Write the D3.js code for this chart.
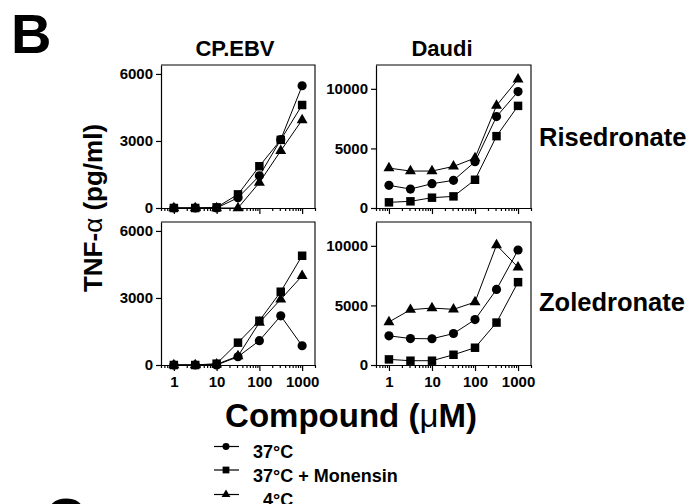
<!DOCTYPE html>
<html lang="en">
<head>
<meta charset="UTF-8">
<title>TNF-alpha release vs compound concentration</title>
<script src="https://d3js.org/d3.v7.min.js"></script>
<style>
  body { margin: 0; background: #fff; }
  svg { display: block; font-family: "Liberation Sans", Arial, Helvetica, sans-serif; font-weight: bold; }
</style>
</head>
<body>
<div id="chart"></div>
<script>
// concentrations (uM), half-log steps
const conc = [1, 3.16, 10, 31.6, 100, 316, 1000];

// CP.EBV, Risedronate
const cpRis37 = [0, 0, 0, 460, 1440, 3060, 5470];
const cpRisMon = [0, 0, 30, 610, 1870, 3050, 4610];
const cpRis4 = [0, 0, 0, 0, 1140, 2560, 3940];

// Daudi, Risedronate
const daudiRis37 = [1900, 1590, 2040, 2320, 3880, 7670, 9770];
const daudiRisMon = [475, 560, 865, 975, 2370, 6030, 8570];
const daudiRis4 = [3350, 3100, 3100, 3490, 4190, 8600, 10800];

// CP.EBV, Zoledronate
const cpZol37 = [0, 0, 0, 370, 1090, 2200, 860];
const cpZolMon = [0, 0, 60, 1000, 1980, 3280, 4890];
const cpZol4 = [0, 0, 30, 400, 1900, 2940, 3990];

// Daudi, Zoledronate
const daudiZol37 = [2450, 2220, 2200, 2640, 3810, 6340, 9650];
const daudiZolMon = [470, 360, 360, 860, 1450, 3560, 6950];
const daudiZol4 = [3610, 4640, 4780, 4670, 5280, 10060, 8200];

const cellLines = ["CP.EBV", "Daudi"];
const compounds = ["Risedronate", "Zoledronate"];
const seriesNames = ["37°C", "37°C + Monensin", "\u20074°C"];
const yTicksCP = [0, 3000, 6000];
const yTicksDaudi = [0, 5000, 10000];
const xTicks = [1, 10, 100, 1000];

const width = 694, height = 504;
const svg = d3.select("#chart").append("svg")
    .attr("width", width)
    .attr("height", height);

const cols = [[161, 315], [376, 531]];
const rows = [[65, 208], [222, 365]];
const symbols = [d3.symbolCircle, d3.symbolSquare, d3.symbolTriangle];
const symSize = [66, 72, 52];

const panels = [
    { row: 0, col: 0, yMax: 6400, yTicks: yTicksCP, series: [cpRis37, cpRisMon, cpRis4] },
    { row: 0, col: 1, yMax: 12000, yTicks: yTicksDaudi, series: [daudiRis37, daudiRisMon, daudiRis4] },
    { row: 1, col: 0, yMax: 6400, yTicks: yTicksCP, series: [cpZol37, cpZolMon, cpZol4] },
    { row: 1, col: 1, yMax: 12000, yTicks: yTicksDaudi, series: [daudiZol37, daudiZolMon, daudiZol4] }
];

// minor log ticks 2..9 per decade inside the domain
const minorTicks = [];
for (let k = -1; k <= 3; k++) {
    for (let m = 2; m <= 9; m++) {
        const v = m * Math.pow(10, k);
        if (v > 0.5 && v < 2000) minorTicks.push(v);
    }
}
minorTicks.push(0.5, 2000);

panels.forEach(p => {
    const [x0, x1] = cols[p.col];
    const [y0, y1] = rows[p.row];
    const x = d3.scaleLog().domain([0.5, 2000]).range([x0, x1]);
    const y = d3.scaleLinear().domain([0, p.yMax]).range([y1, y0]);
    const g = svg.append("g");

    // frame top/right
    g.append("path")
        .attr("d", `M${x0},${y0}H${x1}V${y1}`)
        .attr("fill", "none")
        .attr("stroke", "#000")
        .attr("stroke-width", 1.1);

    const yAxis = g.append("g")
        .attr("transform", `translate(${x0},0)`)
        .call(d3.axisLeft(y).tickValues(p.yTicks).tickSize(5).tickSizeOuter(0).tickPadding(3).tickFormat(d3.format("d")));
    yAxis.selectAll("text").attr("font-size", 15).attr("font-family", null).attr("fill", "#000");

    const xAxis = g.append("g")
        .attr("transform", `translate(0,${y1})`)
        .call(d3.axisBottom(x).tickValues(xTicks).tickSize(6).tickSizeOuter(0).tickPadding(5)
            .tickFormat(p.row === 1 ? d3.format("d") : () => ""));
    xAxis.selectAll("text").attr("font-size", 15).attr("font-family", null).attr("fill", "#000");

    g.append("g")
        .attr("transform", `translate(0,${y1})`)
        .call(d3.axisBottom(x).tickValues(minorTicks).tickSize(3).tickFormat(() => ""))
        .select(".domain").remove();

    g.selectAll(".domain, .tick line").attr("stroke-width", 1.2);

    const line = d3.line().x((d, i) => x(conc[i])).y(d => y(d));
    p.series.forEach(s => {
        g.append("path")
            .datum(s)
            .attr("d", line)
            .attr("fill", "none")
            .attr("stroke", "#000")
            .attr("stroke-width", 1);
    });
    p.series.forEach((s, si) => {
        g.selectAll(null)
            .data(s)
            .join("path")
            .attr("transform", (d, i) => `translate(${x(conc[i])},${y(d)})`)
            .attr("d", d3.symbol().type(symbols[si]).size(symSize[si]))
            .attr("fill", "#000");
    });
});

// column titles
cellLines.forEach((t, i) => {
    svg.append("text")
        .attr("x", i === 0 ? 235 : 442)
        .attr("y", 56)
        .attr("text-anchor", "middle")
        .attr("font-size", 22)
        .text(t);
});

// row labels
compounds.forEach((t, i) => {
    svg.append("text")
        .attr("x", 539)
        .attr("y", i === 0 ? 146 : 311)
        .attr("font-size", 25.5)
        .text(t);
});

// panel letters
svg.append("text").attr("x", 11).attr("y", 53).attr("font-size", 56).text("B");
svg.append("text").attr("x", 45).attr("y", 537).attr("font-size", 56).text("C");

// y axis title
const yt = svg.append("text")
    .attr("transform", "translate(102,208) rotate(-90)")
    .attr("text-anchor", "middle")
    .attr("font-size", 26);
yt.append("tspan").text("TNF-");
yt.append("tspan").attr("font-weight", "normal").text("α");
yt.append("tspan").text(" (pg/ml)");

// x axis title
const xt = svg.append("text")
    .attr("x", 351)
    .attr("y", 427)
    .attr("text-anchor", "middle")
    .attr("font-size", 33);
xt.append("tspan").text("Compound (");
xt.append("tspan").attr("font-weight", "normal").text("μ");
xt.append("tspan").text("M)");

// legend
const legendY = [446.5, 470, 494.5];
const legendSym = [38, 46, 34];
seriesNames.forEach((name, i) => {
    const lg = svg.append("g").attr("transform", `translate(0,${legendY[i]})`);
    lg.append("line").attr("x1", 214).attr("x2", 239).attr("stroke", "#000").attr("stroke-width", 1.2);
    lg.append("path")
        .attr("transform", "translate(226,0)")
        .attr("d", d3.symbol().type(symbols[i]).size(legendSym[i]))
        .attr("fill", "#000");
    lg.append("text")
        .attr("x", 253)
        .attr("y", 11.5)
        .attr("font-size", 18)
        .text(name);
});
</script>
</body>
</html>
